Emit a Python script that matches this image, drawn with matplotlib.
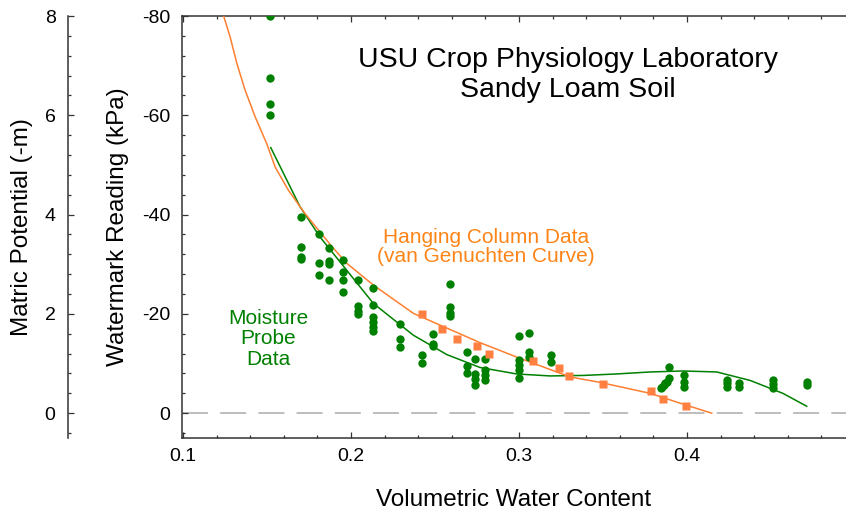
"""
Curva de retención de humedad: lecturas Watermark vs contenido volumétrico.
"""

import numpy as np
import matplotlib.pyplot as plt
from matplotlib.ticker import MultipleLocator, FixedLocator

plt.rcParams.update({
    "font.family": ["Liberation Sans", "DejaVu Sans"],
    "axes.unicode_minus": False,
})

# ── Datos ────────────────────────────────────────────────────────────────────

# Sensores de humedad (Watermark), kPa
probe_vwc = [
    0.152, 0.152, 0.152, 0.152,
    0.170, 0.170, 0.170, 0.170,
    0.181, 0.181, 0.181,
    0.187, 0.187, 0.187, 0.187,
    0.195, 0.195, 0.195, 0.195,
    0.204, 0.204, 0.204, 0.204,
    0.213, 0.213, 0.213, 0.213, 0.213, 0.213,
    0.229, 0.229, 0.229,
    0.242, 0.242,
    0.249, 0.249, 0.249,
    0.259, 0.259, 0.259, 0.259,
    0.269, 0.269, 0.269,
    0.274, 0.274, 0.274, 0.274,
    0.280, 0.280, 0.280, 0.280,
    0.300, 0.300, 0.300, 0.300, 0.300,
    0.306, 0.306, 0.306,
    0.319, 0.319,
    0.3895, 0.3895, 0.388, 0.387, 0.386, 0.385, 0.3845,
    0.398, 0.398, 0.398,
    0.4236, 0.4236, 0.4236,
    0.431, 0.431,
    0.451, 0.451, 0.451,
    0.4716, 0.4716,
]
probe_kpa = [
    -80.0, -67.5, -62.3, -60.0,
    -39.6, -33.4, -31.5, -31.0,
    -36.1, -30.2, -27.8,
    -33.2, -30.6, -30.0, -26.9,
    -30.8, -28.5, -26.8, -24.5,
    -26.9, -21.6, -20.6, -19.9,
    -25.3, -21.8, -19.4, -18.4, -17.4, -16.5,
    -17.9, -15.0, -13.4,
    -11.7, -10.1,
    -15.9, -14.0, -13.6,
    -26.1, -21.3, -20.1, -19.5,
    -12.4, -9.5, -8.1,
    -11.0, -7.9, -6.9, -5.6,
    -11.0, -8.7, -7.7, -6.6,
    -15.5, -10.7, -9.7, -8.7, -7.0,
    -16.2, -12.4, -11.4,
    -11.7, -10.3,
    -9.3, -7.0, -6.3, -6.0, -5.6, -5.3, -5.0,
    -7.7, -6.3, -5.3,
    -6.7, -6.0, -5.3,
    -6.0, -5.3,
    -6.6, -5.8, -5.0,
    -6.2, -5.6,
]

# Ajuste de los sensores (curva verde)
probe_fit_vwc = [0.1522, 0.1696, 0.1815, 0.1974, 0.2133, 0.2371, 0.257, 0.2768,
                 0.2986, 0.3185, 0.3383, 0.358, 0.378, 0.3976, 0.4177, 0.4375,
                 0.457, 0.4712]
probe_fit_kpa = [-53.5, -41.6, -35.5, -28.8, -22.1, -15.7, -11.8, -9.2,
                 -7.9, -7.5, -7.6, -7.9, -8.3, -8.5, -8.3, -6.6,
                 -4.0, -1.4]

# Columna colgante (cuadrados naranjas)
column_vwc = [0.2421, 0.254, 0.2633, 0.275, 0.2821, 0.3082, 0.3238, 0.3295,
              0.3498, 0.3786, 0.3859, 0.3992]
column_kpa = [-19.9, -16.9, -14.9, -13.5, -11.9, -10.5, -9.0, -7.5,
              -5.9, -4.4, -2.9, -1.4]

# Curva de van Genuchten
vg_vwc = [0.124, 0.128, 0.132, 0.1369, 0.1429, 0.1498, 0.1548, 0.1627,
          0.1726, 0.1885, 0.1974, 0.2133, 0.2371, 0.2768, 0.2986, 0.3304,
          0.3482, 0.378, 0.3978, 0.4147]
vg_kpa = [-80.2, -75.8, -70.5, -65.1, -59.7, -54.3, -49.6, -44.9,
          -40.2, -33.6, -30.2, -25.8, -20.1, -14.2, -11.3, -7.3,
          -6.2, -4.0, -1.8, 0.0]

# Colores
GREEN = "#008000"
ORANGE_TXT = "#FF8418"
ORANGE_PT = "#FF8040"
ORANGE_LN = "#FF7F30"
SPINE = "#333333"

W, H = 846, 519


def px(x, y):
    """Pixel de la imagen -> coordenadas de figura."""
    return x / W, 1 - y / H


fig = plt.figure(figsize=(W / 100, H / 100), dpi=100)
left, bottom = 181.7 / W, (H - 438) / H
ax = fig.add_axes([left, bottom, 1 - left, (438 - 16) / H])

# ── Marcas ──
ax.axhline(0, color="#ababab", lw=1.1, linestyle=(0, (17, 8)), zorder=1)
ax.plot(probe_fit_vwc, probe_fit_kpa, color=GREEN, lw=1.1, zorder=2)
ax.plot(vg_vwc, vg_kpa, color=ORANGE_LN, lw=1.1, zorder=3)
ax.plot(probe_vwc, probe_kpa, "o", color=GREEN, ms=6.0, mec="none", zorder=4)
ax.plot(column_vwc, column_kpa, "s", color=ORANGE_PT, ms=5.3, mec="none", zorder=5)

# ── Ejes ──
ax.set_xlim(0.0992, 0.4946)
ax.set_ylim(5, -80)
ax.xaxis.set_major_locator(FixedLocator([0.1, 0.2, 0.3, 0.4]))
ax.xaxis.set_minor_locator(MultipleLocator(0.02))
ax.yaxis.set_major_locator(MultipleLocator(20))
ax.yaxis.set_minor_locator(MultipleLocator(4))
ax.xaxis.set_major_formatter(lambda v, p: f"{v:.1f}")
ax.yaxis.set_major_formatter(lambda v, p: f"{v:.0f}")

ax.spines["right"].set_visible(False)
for s in ("left", "bottom", "top"):
    ax.spines[s].set_color(SPINE)
    ax.spines[s].set_linewidth(1.1)
ax.tick_params(which="both", direction="in", top=True, right=False,
               color=SPINE, width=0.9, labelsize=14)
ax.tick_params(which="major", length=4)
ax.tick_params(which="minor", length=2.5)
ax.tick_params(axis="x", pad=7)
ax.tick_params(axis="y", pad=8)

# Eje exterior: potencial mátrico en metros
ax2 = ax.twinx()
ax2.set_ylim(-0.5, 8)
ax2.yaxis.set_ticks_position("left")
ax2.spines["left"].set_position(("axes", -113.7 / (W - 181.7)))
for s in ("right", "top", "bottom"):
    ax2.spines[s].set_visible(False)
ax2.spines["left"].set_color(SPINE)
ax2.spines["left"].set_linewidth(1.1)
ax2.yaxis.set_major_locator(MultipleLocator(2))
ax2.yaxis.set_minor_locator(MultipleLocator(0.4))
ax2.yaxis.set_major_formatter(lambda v, p: f"{v:.0f}")
ax2.tick_params(which="both", direction="in", color=SPINE, width=0.9,
                labelsize=14, pad=9)
ax2.tick_params(which="major", length=4)
ax2.tick_params(which="minor", length=2.5)

# ── Etiquetas ──
fig.text(*px(22, 227), "Matric Potential (-m)", rotation=90,
         ha="center", va="center", fontsize=17.5)
fig.text(*px(118, 227), "Watermark Reading (kPa)", rotation=90,
         ha="center", va="center", fontsize=17.5)
fig.text(*px(514, 500), "Volumetric Water Content",
         ha="center", va="center", fontsize=17.5)

fig.text(*px(568, 75), "USU Crop Physiology Laboratory\nSandy Loam Soil",
         ha="center", va="center", fontsize=20.5, linespacing=1.2)
fig.text(*px(486, 247), "Hanging Column Data\n(van Genuchten Curve)",
         ha="center", va="center", fontsize=15, color=ORANGE_TXT,
         linespacing=1.05)
fig.text(*px(268, 339), "Moisture\nProbe\nData",
         ha="center", va="center", fontsize=15, color=GREEN,
         linespacing=1.1)

fig.savefig("out.png", dpi=100)
